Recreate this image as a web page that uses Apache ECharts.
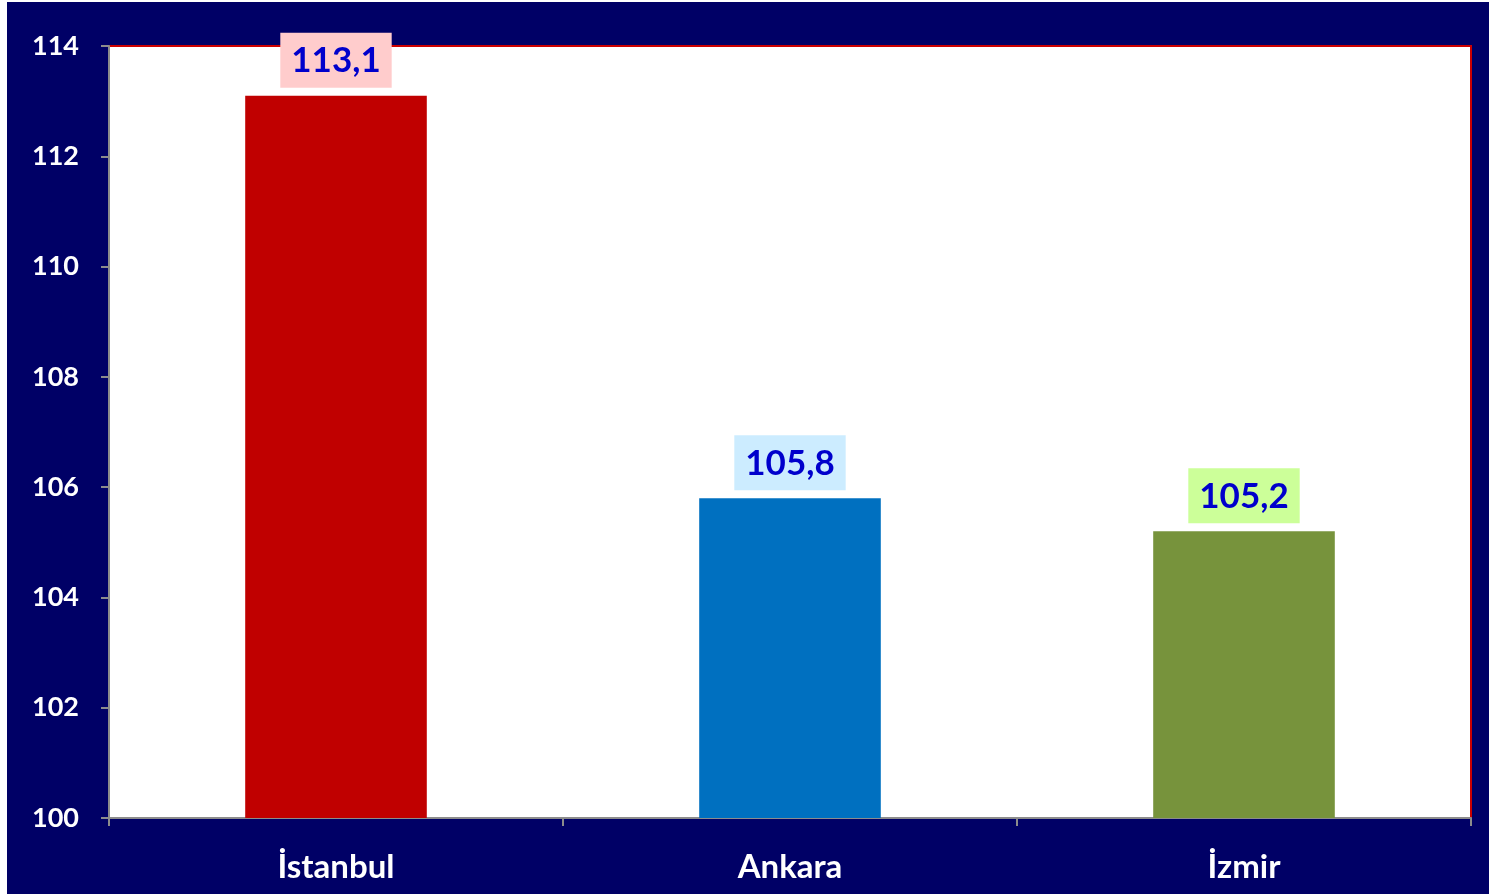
<!DOCTYPE html>
<html>
<head>
<meta charset="utf-8">
<script src="https://cdn.jsdelivr.net/npm/echarts@6/dist/echarts.min.js"></script>
<style>
    html, body { margin: 0; padding: 0; background: #ffffff; }
    #bar-container { position: absolute; left: 7px; top: 2px; width: 1482px; height: 892px; }
</style>
</head>
<body>
<div id="bar-container"></div>
<script>
const categories = ['İstanbul', 'Ankara', 'İzmir'];
const values = [113.1, 105.8, 105.2];
const barColors = ['#C00000', '#0070C0', '#77933C'];
const labelColors = ['#FFCCCC', '#CCECFF', '#CCFF99'];

const chartDom = document.getElementById('bar-container');
const myChart = echarts.init(chartDom, null, { renderer: 'canvas' });

const options = {
    backgroundColor: '#000066',
    animation: false,
    grid: { // plot area, white with red frame
        left: 102,
        right: 18,
        top: 44,
        bottom: 76,
        show: true,
        backgroundColor: '#ffffff',
        borderColor: '#CC0000',
        borderWidth: 2
    },
    xAxis: {
        type: 'category',
        data: categories,
        boundaryGap: true,
        axisLine: { show: true, lineStyle: { color: '#8c8c8c', width: 2 } },
        axisTick: { show: true, length: 8, alignWithLabel: false, lineStyle: { color: '#8c8c8c', width: 2 } },
        axisLabel: {
            color: '#ffffff',
            fontFamily: 'Lato',
            fontWeight: 'bold',
            fontSize: 33,
            margin: 33
        }
    },
    yAxis: {
        type: 'value',
        min: 100,
        max: 114,
        interval: 2,
        splitLine: { show: false },
        axisLine: { show: true, lineStyle: { color: '#8c8c8c', width: 2 } },
        axisTick: { show: true, length: 8, inside: false, lineStyle: { color: '#8c8c8c', width: 2 } },
        axisLabel: {
            color: '#ffffff',
            fontFamily: 'Lato',
            fontWeight: 'bold',
            fontSize: 27,
            margin: 30
        }
    },
    series: [
        {
            type: 'bar',
            barWidth: '40%',
            data: values.map((v, i) => ({
                value: v,
                itemStyle: { color: barColors[i] },
                label: { backgroundColor: labelColors[i] }
            })),
            label: {
                show: true,
                position: 'top',
                distance: 8,
                color: '#0000CC',
                fontFamily: 'Lato',
                fontWeight: 'bold',
                fontSize: 35,
                padding: [11, 11, 9, 11],
                formatter: p => String(p.value).replace('.', ',')
            }
        }
    ]
};

myChart.setOption(options);

window.addEventListener('resize', () => {
    myChart.resize();
});
</script>
</body>
</html>
